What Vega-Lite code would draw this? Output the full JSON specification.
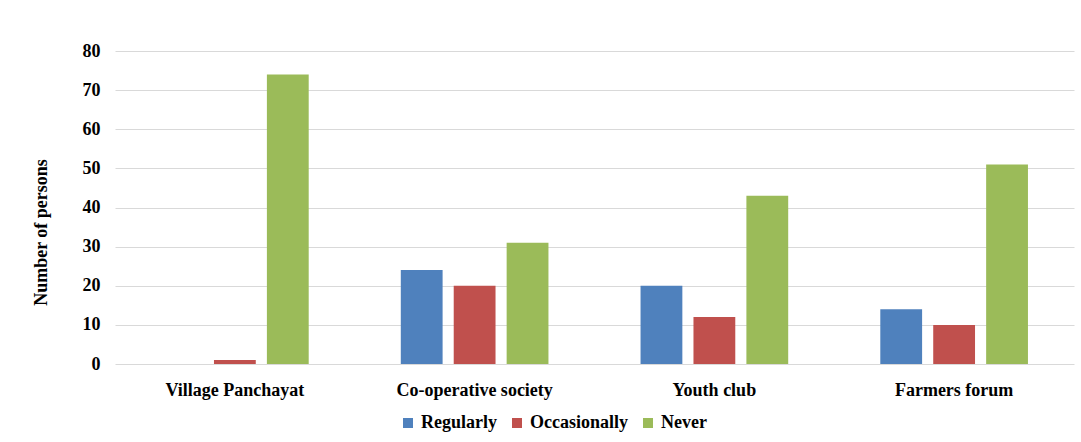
{
  "$schema": "https://vega.github.io/schema/vega-lite/v6.json",
  "width": 959,
  "height": 313,
  "autosize": {"type": "none"},
  "padding": {"left": 115, "top": 51, "right": 7, "bottom": 78},
  "background": "white",
  "data": {"values": [
    {"place": "Village Panchayat", "freq": "Regularly", "n": 0},
    {"place": "Village Panchayat", "freq": "Occasionally", "n": 1},
    {"place": "Village Panchayat", "freq": "Never", "n": 74},
    {"place": "Co-operative society", "freq": "Regularly", "n": 24},
    {"place": "Co-operative society", "freq": "Occasionally", "n": 20},
    {"place": "Co-operative society", "freq": "Never", "n": 31},
    {"place": "Youth club", "freq": "Regularly", "n": 20},
    {"place": "Youth club", "freq": "Occasionally", "n": 12},
    {"place": "Youth club", "freq": "Never", "n": 43},
    {"place": "Farmers forum", "freq": "Regularly", "n": 14},
    {"place": "Farmers forum", "freq": "Occasionally", "n": 10},
    {"place": "Farmers forum", "freq": "Never", "n": 51}
  ]},
  "mark": {"type": "bar"},
  "encoding": {
    "x": {
      "field": "place", "type": "nominal",
      "sort": ["Village Panchayat", "Co-operative society", "Youth club", "Farmers forum"],
      "scale": {"paddingInner": 0, "paddingOuter": 0},
      "axis": {"title": null, "labelAngle": 0, "domain": false, "ticks": false, "labelPadding": 17,
               "labelFont": "Liberation Serif", "labelFontWeight": "bold", "labelFontSize": 18, "labelColor": "#000"}
    },
    "xOffset": {
      "field": "freq", "type": "nominal",
      "sort": ["Regularly", "Occasionally", "Never"],
      "scale": {"paddingInner": 0.21, "paddingOuter": 0.87}
    },
    "y": {
      "field": "n", "type": "quantitative",
      "scale": {"domain": [0, 80], "nice": false},
      "axis": {"title": "Number of  persons", "values": [0,10,20,30,40,50,60,70,80], "domain": false, "ticks": false,
               "labelPadding": 15, "gridColor": "#d9d9d9", "gridWidth": 1,
               "labelFont": "Liberation Serif", "labelFontWeight": "bold", "labelFontSize": 18, "labelColor": "#000",
               "titleFont": "Liberation Serif", "titleFontWeight": "bold", "titleFontSize": 18, "titleColor": "#000",
               "titlePadding": 32, "titleY": 181}
    },
    "color": {
      "field": "freq", "type": "nominal",
      "sort": ["Regularly", "Occasionally", "Never"],
      "scale": {"domain": ["Regularly", "Occasionally", "Never"], "range": ["#4F81BD", "#C0504D", "#9BBB59"]},
      "legend": {"title": null, "orient": "none", "direction": "horizontal", "legendX": 284, "legendY": 363,
                 "symbolType": "square", "symbolSize": 100, "symbolStrokeWidth": 0, "columnPadding": 11, "labelOffset": 4,
                 "labelFont": "Liberation Serif", "labelFontWeight": "bold", "labelFontSize": 18, "labelColor": "#000"}
    }
  },
  "config": {"view": {"stroke": null}}
}
